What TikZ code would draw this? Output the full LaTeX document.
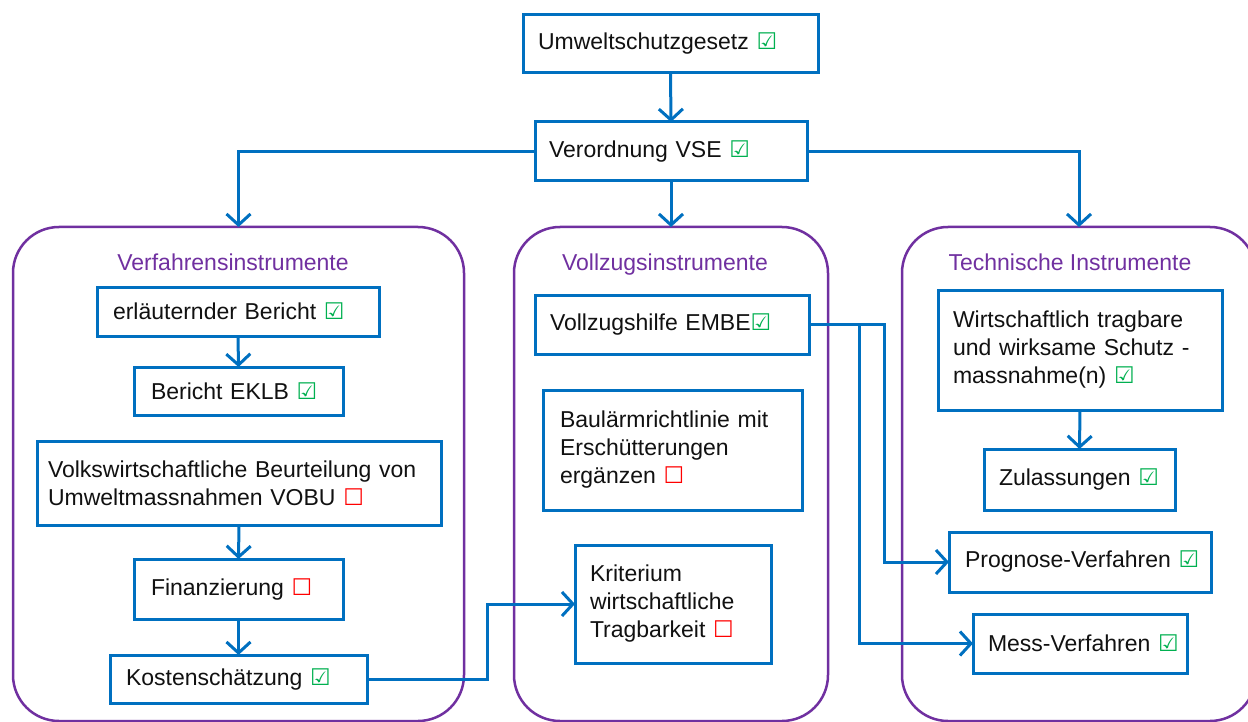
\documentclass[tikz,border=0pt]{standalone}
\usepackage{fontspec}
\setmainfont{Liberation Sans}
\newfontfamily\chkfont{DejaVu Sans}
\usetikzlibrary{arrows.meta}
\definecolor{cblue}{HTML}{0070C0}
\definecolor{cpurple}{HTML}{7030A0}
\definecolor{cgreen}{HTML}{00B050}
\definecolor{cred}{HTML}{FF0000}
\definecolor{ctext}{HTML}{111111}
\newcommand{\chkyes}{{\chkfont\color{cgreen}\symbol{"2611}}}
\newcommand{\chkno}{{\chkfont\color{cred}\symbol{"2610}}}
\newcommand{\oneline}[1]{\mbox{#1}}
\begin{document}
\begin{tikzpicture}[x=1pt,y=-1pt,
  font=\fontsize{23}{28}\selectfont,
  box/.style={draw=cblue, line width=3pt, fill=white, align=left, text=ctext,
    inner ysep=2pt, outer sep=0pt, anchor=center},
  cont/.style={draw=cpurple, line width=2.5pt, rounded corners=46pt,
    outer sep=0pt, inner sep=0pt},
  ctitle/.style={text=cpurple, inner sep=0pt, anchor=base},
  conn/.style={draw=cblue, line width=3pt},
  arr/.style={conn, -{Straight Barb[length=11pt,width=24pt,line width=3pt]}}
]
\useasboundingbox (0,0) rectangle (1248,722);
\clip (0,0) rectangle (1248,722);

% containers
\node[cont, minimum width=451pt, minimum height=494pt] (c1) at (238.5,474) {};
\node[cont, minimum width=314pt, minimum height=494pt] (c2) at (671,474) {};
\node[cont, minimum width=354pt, minimum height=494pt] (c3) at (1079,474) {};
\node[ctitle] (t1) at (233,270) {Verfahrensinstrumente};
\node[ctitle] (t2) at (665,270) {Vollzugsinstrumente};
\node[ctitle] (t3) at (1070,270) {Technische Instrumente};

% top boxes
\node[box, minimum width=295pt, minimum height=58pt, inner xsep=15pt, text width=265pt] (u) at (670.5,44) {\oneline{Umweltschutzgesetz \chkyes}};
\node[box, minimum width=272pt, minimum height=59pt, inner xsep=14pt, text width=244pt] (v) at (671,151.5) {\oneline{Verordnung VSE \chkyes}};

% left column
\node[box, minimum width=282pt, minimum height=49pt, inner xsep=16pt, text width=250pt] (erl) at (238,311.5) {\oneline{erläuternder Bericht \chkyes}};
\node[box, minimum width=209pt, minimum height=48pt, inner xsep=17pt, text width=175pt] (eklb) at (238.5,391) {\oneline{Bericht EKLB \chkyes}};
\node[box, minimum width=404pt, minimum height=84pt, inner xsep=11pt, text width=382pt] (volks) at (239,483) {\oneline{Volkswirtschaftliche Beurteilung von}\\\oneline{Umweltmassnahmen VOBU \chkno}};
\node[box, minimum width=209pt, minimum height=60pt, inner xsep=17pt, text width=175pt] (fin) at (238.5,589) {\oneline{Finanzierung \chkno}};
\node[box, minimum width=257pt, minimum height=48pt, inner xsep=16pt, text width=225pt] (kost) at (238.5,679) {\oneline{Kostenschätzung \chkyes}};

% middle column
\node[box, minimum width=274pt, minimum height=59pt, inner xsep=15pt, text width=244pt] (vh) at (672,324.5) {\oneline{Vollzugshilfe EMBE\chkyes}};
\node[box, minimum width=259pt, minimum height=120pt, inner xsep=17pt, text width=225pt] (bau) at (672.5,450) {\oneline{Baulärmrichtlinie mit}\\\oneline{Erschütterungen}\\\oneline{ergänzen \chkno}};
\node[box, minimum width=196pt, minimum height=118pt, inner xsep=15pt, text width=166pt] (krit) at (673,604) {\oneline{Kriterium}\\\oneline{wirtschaftliche}\\\oneline{Tragbarkeit \chkno}};

% right column
\node[box, minimum width=284pt, minimum height=120pt, inner xsep=15pt, text width=254pt] (wir) at (1080,350) {\oneline{Wirtschaftlich tragbare}\\\oneline{und wirksame Schutz -}\\\oneline{massnahme(n) \chkyes}};
\node[box, minimum width=191pt, minimum height=61pt, inner xsep=15pt, text width=161pt] (zul) at (1079.5,479.5) {\oneline{Zulassungen \chkyes}};
\node[box, minimum width=262pt, minimum height=60pt, inner xsep=16pt, text width=230pt] (prog) at (1080,562) {\oneline{Prognose-Verfahren \chkyes}};
\node[box, minimum width=214pt, minimum height=59pt, inner xsep=15pt, text width=184pt] (mess) at (1080,643.5) {\oneline{Mess-Verfahren \chkyes}};

% connectors
\draw[arr] (u.south) -- (v.north);
\draw[arr] (v.west) -| (c1.north);
\draw[arr] (v.south) -- (c2.north);
\draw[arr] (v.east) -| (c3.north);
\draw[arr] (erl.south) -- (eklb.north);
\draw[arr] (volks.south) -- (fin.north);
\draw[arr] (fin.south) -- (kost.north);
\draw[arr] (kost.east) -- ++(120,0) |- (krit.west);
\draw[arr] (vh.east) -- ++(75,0) |- (prog.west);
\draw[arr] ([xshift=50pt]vh.east) |- (mess.west);
\draw[arr] (wir.south) -- (zul.north);
\end{tikzpicture}
\end{document}
